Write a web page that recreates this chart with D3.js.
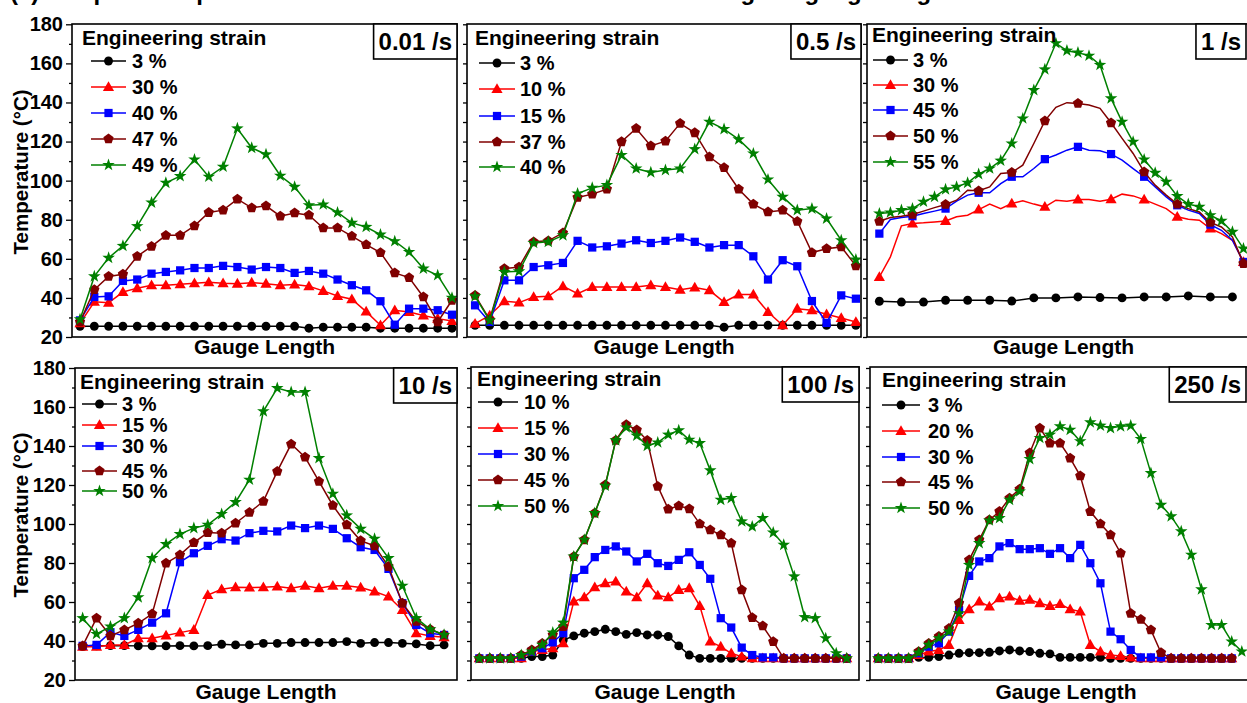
<!DOCTYPE html>
<html><head><meta charset="utf-8">
<script src="https://cdn.jsdelivr.net/npm/d3@7"></script>
<style>
body{margin:0;background:#fff}
svg{display:block;font-family:"Liberation Sans",Arial,Helvetica,sans-serif;font-weight:bold}
</style>
</head><body>
<svg id="chart" width="1247" height="703"></svg>
<script>
// ---------------- DATA ----------------
const yTicks = [20, 40, 60, 80, 100, 120, 140, 160, 180];
const yMinorTicks = [30, 50, 70, 90, 110, 130, 150, 170];
const rateLabels = ["0.01 /s", "0.5 /s", "1 /s", "10 /s", "100 /s", "250 /s"];
const legendTitle = "Engineering strain";
const xLabel = "Gauge Length";
const yLabel = "Temperature (°C)";
const figTitle = "(a) Temperature profiles at different strain rates and strains along the gauge length";

// 0.01 /s
const strains001 = ["3 %", "30 %", "40 %", "47 %", "49 %"];
const t001_a = [25.5,25.5,25.5,25.5,25.5,25.5,25.5,25.5,25.5,25.5,25.5,25.5,25.5,25.5,25.5,25.5,24.5,25,25,25,25,24.5,24.5,24.5,24.5,24.5,24.5];
const t001_b = [27,38,37.5,43,45,46.5,46.5,47,47.5,48,47.5,47.3,47.8,47.3,46.5,46.8,46,43.6,41,39.3,33,26,33.7,32.8,31,29.4,28.2];
const t001_c = [28.5,40.5,40.8,48.7,49.4,52.4,53.3,54.1,55.3,55.3,56.4,55.8,54.5,55.8,55.3,52.8,53.8,52.4,49.4,46.5,43.9,38.3,26.3,34.5,34.5,33.7,31.4];
const t001_d = [27.7,44.2,51,52.1,61.3,66.4,72,72,76.9,83.7,84.9,90.5,86.1,87.1,81.8,83.5,82.3,75.8,75.8,71.6,67.3,63.2,52.8,50.4,40.5,27.7,38.8];
const t001_e = [29,51,60.5,66.6,76.7,88.8,98.9,102.3,110.8,102,107.1,126.7,116.8,113.4,102.5,96.8,87.4,87.8,83.7,78.4,76.3,72.4,69,63.5,55,51.6,40];

// 0.5 /s
const strains05 = ["3 %", "10 %", "15 %", "37 %", "40 %"];
const t05_a = [26,26,26,26,26,26,26,26,26,26,26,26,26,26,26,26,26,25,26,26,26,26,26,26,26,26,26];
const t05_b = [26.8,31,38.3,37.6,40.5,40.8,46,42.2,45.6,45.6,45.6,45.6,46.5,45.6,44.2,45.3,43.9,37.9,41.7,41.7,32.8,26,34.5,33.7,31.6,29.7,27.7];
const t05_c = [36.2,27.7,49,49,55.8,56.7,57.9,69.2,65.8,66.4,67.8,69.5,68.1,69.2,70.9,68.7,65.8,67,67,61.3,49.4,59.3,56.2,38.4,27.2,41.3,39.6];
const t05_d = [41.3,28.9,55,55.8,68.7,69.2,73.3,91.4,93.1,95.6,119.9,126.7,117.8,120.2,129.3,124.5,112.2,106.6,95.6,88,84,84.9,79.2,63.2,65.2,66.1,56.4];
const t05_e = [40.8,28.5,53.3,53.6,68.1,68.7,72,93.4,96.3,97.7,113.1,106.2,104.2,105.4,106.2,116.1,130.1,126.4,121.1,113.9,100.6,91.7,84.9,85.7,80.6,69.5,59.6];

// 1 /s
const strains1 = ["3 %", "30 %", "45 %", "50 %", "55 %"];
const t1_a = [38.3,37.9,37.9,38.8,38.8,38.8,38.4,40,40,40.5,40.2,40,40.5,40.5,41,40.5,40.5];
const t1_b = [50.7,61,76.9,78.1,78.4,78.9,79.4,81.5,82.3,85.2,88,85.7,88.3,89.7,88,86.6,90,89.5,90.3,90.3,89.5,90.5,93.1,92.2,90.3,88,85.7,81.5,80.3,79.8,75.5,72.9,69.5,58.4];
const t1_c = [72.9,80.1,81.1,81.8,83.2,84.4,85.7,89.5,92.6,93.8,93.8,98.5,102,102,106.2,111,113.1,115.6,117.3,115.6,115.3,113.6,110.5,106.2,102,96.8,91.7,87.4,84.9,83.2,77.5,74.6,69.5,58.4];
const t1_d = [79.2,81.1,81.8,82.7,84.4,86.2,87.8,90,95.1,94.8,96.8,103.7,104.2,107.9,119,130.6,137.5,139.9,139.5,138.7,137,129.6,121.6,113.9,104.5,97.7,92.6,88,85.7,84,78.6,76.3,71.2,57.6];
const t1_e = [83.2,83.7,84.9,85.7,89.2,91.7,95.5,96.8,98.9,103.3,106.2,110.2,119,131.8,146.3,156.9,170.3,166.5,165.5,163.9,159.2,142.1,130.1,119.9,110.8,104,99.4,92.1,88,86.6,82.3,79.4,73.8,65.2];

// 10 /s
const strains10 = ["3 %", "15 %", "30 %", "45 %", "50 %"];
const t10_a = [37.1,37.5,37.6,37.6,37.5,37.5,37.5,37.6,37.5,37.6,38.3,38,38,38.8,38.8,39.2,39.2,39.2,39.2,39.7,38.8,39.2,39.2,38.8,38.5,37.6,38];
const t10_b = [37.1,37.1,38,38,41.4,41.4,42.8,44.3,45.7,63.6,66.5,67.6,67.4,67.6,67.9,67.1,68.3,67.1,68.3,68.3,67.4,65.4,62.8,55.9,44,42.6,41.9];
const t10_c = [37.5,38,44.5,42.6,45.7,49.4,54.2,80.4,85,88.8,92.2,91.5,95.3,96.5,96.2,99.2,97.9,99.2,97.5,92.7,88.1,86.7,77,59.4,48.2,44,43.1];
const t10_d = [37.5,51.7,42.6,45.7,49.1,53.9,79.9,84.2,90.5,95.6,95.3,100.4,105.9,111.6,127,141,134.3,121.8,109.5,99.6,91.4,88.8,78.2,59.4,50,46,43.1];
const t10_e = [51.7,43.6,47.4,51.7,62.4,82.5,89.7,94.8,97.9,99.6,105.1,111.2,122.7,157.8,169.7,167.7,167.7,133.8,115.5,104.4,97.5,92.4,82.5,68.3,51.7,46,43.1];

// 100 /s
const strains100 = ["10 %", "15 %", "30 %", "45 %", "50 %"];
const t100_a = [31.1,31.1,31.1,31.1,31.1,32,32,32.8,40.5,42.6,44,44.8,46,44.8,43.4,44.3,43.1,43.1,42.3,37.5,32.8,31.1,31.1,31.1,31.1,31.1,31.1,31.1,31.1,31.1,31.1,31.1,31.1,31.1,31.1,31.1];
const t100_b = [31.1,31.1,31.1,31.1,31.1,34.6,35.4,36.3,38.8,60.2,62.4,67.6,69.6,70.5,65.4,62.4,69.6,63.3,62.4,66.2,67.1,58,39.7,37.1,33.7,32,31.1,31.1,31.1,31.1,31.1,31.1,31.1,31.1,31.1,31.1];
const t100_c = [31.1,31.1,31.1,31.1,32,34.6,36.3,39.3,44,72.2,76.5,83,86.7,88.5,85.9,80.8,84.7,79.9,78.5,81.6,85.5,79,71.9,51.7,46.9,36.6,32.8,31.6,31.6,31.1,31.1,31.1,31.1,31.1,31.1,31.1];
const t100_d = [31.1,31.1,31.1,31.1,32.8,35.4,38.8,43.1,47.4,83.3,91.9,105.6,120.1,142.9,150.9,148.3,142.9,119.3,107.6,109.3,107.8,100.1,97,94.4,90.2,66.2,52,47.7,39.7,31.1,31.1,31.1,31.1,31.1,31.1,31.1];
const t100_e = [31.1,31.1,31.1,31.1,32.8,34.6,38,44.3,49.4,83.3,91.9,105.6,119.6,142.9,149.5,145.3,140.1,141.8,145.8,148,143.2,141.5,127.5,112.4,113.3,101.3,98.7,103,95.6,89.3,73.1,52.2,51.7,41.4,33.7,31.1];

// 250 /s
const strains250 = ["3 %", "20 %", "30 %", "45 %", "50 %"];
const t250_a = [31.1,31.1,31.1,31.1,31.6,31.6,32,32.8,33.7,34,34,34.2,34.9,35.4,34.9,34.6,33.7,33.4,31.6,31.6,31.6,31.6,31.6,31.1,31.1,31.1,31.1,31.1,31.1,31.1,31.1,31.1,31.1,31.1,31.1,31.1];
const t250_b = [31.1,31.1,31.1,31.1,32.8,34.6,35.4,38,50.8,56.3,60.2,57.7,61.9,62.8,60.7,61.1,59.4,58,59,56.3,55.1,38,34.6,32.8,32.3,31.6,31.1,31.1,31.1,31.1,31.1,31.1,31.1,31.1,31.1,31.1];
const t250_c = [31.1,31.1,31.1,31.1,33.7,37.1,38.8,44.8,55.9,73.4,80.8,82.5,88.5,90.2,87.1,87.1,87.6,84.7,87.6,82.5,89.3,79.9,69.6,44.8,40.9,35.4,31.6,31.6,31.6,31.1,31.1,31.1,31.1,31.1,31.1,31.1];
const t250_d = [31.1,31.1,31.1,31.1,34.6,38.8,42.3,46.5,59.4,81.6,91.9,102.1,106.4,113.3,117.9,136.4,149.2,141.5,141.5,133.8,124.7,106.4,100.1,94.4,85,54.2,51.1,45.7,34,31.1,31.1,31.1,31.1,31.1,31.1,31.1];
const t250_e = [31.1,31.1,31.1,31.1,34,38,41.4,44.8,54.2,79,90.2,101.8,103,112.4,116.7,133.3,144.1,145.8,150.1,148.3,142.4,152.1,150.4,149.2,150.1,150.4,143.6,126.1,109.8,103.9,96.2,84.2,66.5,48.2,48.2,39.7,34.6];

// ---------------- STYLE / LAYOUT ----------------
const colors = ["#000000", "#ff0000", "#0000ff", "#800000", "#008000"];
const shapes = ["circle", "triangle", "square", "pentagon", "star"];
const W = 1247;

const panels = [
  {rate: rateLabels[0], labels: strains001, series: [t001_a,t001_b,t001_c,t001_d,t001_e],
   step: [1,1,1,1,1], every: [1,1,1,1,1],
   box: [72, 24, 457, 337], xDom: [-0.56, 26.35], yRange: [337, 24.3], labels_y: true,
   leg: {tx0: 82, ty: 45, lx: [91, 126], tx: 132, rows: [61, 87, 113, 139, 165]}, yl: 172, xlY: 354},
  {rate: rateLabels[1], labels: strains05, series: [t05_a,t05_b,t05_c,t05_d,t05_e],
   step: [1,1,1,1,1], every: [1,1,1,1,1],
   box: [467, 24, 861, 337], xDom: [-0.55, 26.35], yRange: [337, 24.3], labels_y: false,
   leg: {tx0: 475, ty: 45, lx: [479, 515], tx: 520, rows: [63, 89, 116, 142, 167]}, xlY: 354},
  {rate: rateLabels[2], labels: strains1, series: [t1_a,t1_b,t1_c,t1_d,t1_e],
   step: [2,1,1,1,1], every: [1,3,3,3,1],
   box: [867, 24, 1260, 337], xDom: [-1.12, 34.5], yRange: [337, 24.3], labels_y: false,
   leg: {tx0: 872, ty: 42, lx: [873, 908], tx: 913, rows: [60, 85, 110, 136, 162]}, xlY: 354},
  {rate: rateLabels[3], labels: strains10, series: [t10_a,t10_b,t10_c,t10_d,t10_e],
   step: [1,1,1,1,1], every: [1,1,1,1,1],
   box: [75, 368, 457, 680], xDom: [-0.55, 26.93], yRange: [680, 368], labels_y: true,
   leg: {tx0: 80, ty: 389, lx: [82, 117], tx: 122, rows: [404, 425, 446, 471, 491]}, yl: 515, xlY: 699},
  {rate: rateLabels[4], labels: strains100, series: [t100_a,t100_b,t100_c,t100_d,t100_e],
   step: [1,1,1,1,1], every: [1,1,1,1,1],
   box: [471, 367, 859, 680], xDom: [-0.79, 36.17], yRange: [680, 368], labels_y: false,
   leg: {tx0: 477, ty: 386, lx: [478, 518], tx: 524, rows: [402, 428, 454, 480, 506]}, xlY: 699},
  {rate: rateLabels[5], labels: strains250, series: [t250_a,t250_b,t250_c,t250_d,t250_e],
   step: [1,1,1,1,1], every: [1,1,1,1,1],
   box: [870, 367, 1262, 680], xDom: [-0.82, 38.0], yRange: [680, 368], labels_y: false,
   leg: {tx0: 882, ty: 387, lx: [882, 920], tx: 928, rows: [405, 431, 457, 482, 508]}, xlY: 699}
];

function markerPath(shape) {
  if (shape === "circle") return d3.symbol(d3.symbolCircle, 62)();
  if (shape === "square") return d3.symbol(d3.symbolSquare, 68)();
  if (shape === "triangle") return "M0,-5.8L5.6,4L-5.6,4Z";
  if (shape === "pentagon") {
    const r = 5.4, pts = [];
    for (let i = 0; i < 5; i++) {
      const a = -Math.PI / 2 + i * 2 * Math.PI / 5;
      pts.push([r * Math.cos(a), r * Math.sin(a)]);
    }
    return "M" + pts.map(p => p[0].toFixed(2) + "," + p[1].toFixed(2)).join("L") + "Z";
  }
  if (shape === "star") {
    const ro = 6.6, ri = 2.6, pts = [];
    for (let i = 0; i < 10; i++) {
      const a = -Math.PI / 2 + i * Math.PI / 5;
      const r = i % 2 === 0 ? ro : ri;
      pts.push([r * Math.cos(a), r * Math.sin(a)]);
    }
    return "M" + pts.map(p => p[0].toFixed(2) + "," + p[1].toFixed(2)).join("L") + "Z";
  }
}

const svg = d3.select("#chart");

// figure title (cut at the top edge as in the reference)
svg.append("text").attr("x", 10).attr("y", 0).attr("font-size", 24).text(figTitle);

panels.forEach((p, pi) => {
  const [x0, y0, x1, y1] = p.box;
  const x = d3.scaleLinear().domain(p.xDom).range([x0, x1]);
  const y = d3.scaleLinear().domain([20, 180]).range(p.yRange);
  const g = svg.append("g");

  const clipId = "clip" + pi;
  svg.append("clipPath").attr("id", clipId)
    .append("rect").attr("x", x0).attr("y", y0).attr("width", x1 - x0).attr("height", y1 - y0);

  // y axis ticks
  const ax = d3.axisLeft(y).tickValues(yTicks).tickSize(p.labels_y ? 6 : 4).tickPadding(3)
    .tickFormat(p.labels_y ? d3.format("d") : () => "");
  const axG = g.append("g").attr("transform", `translate(${x0},0)`).call(ax);
  axG.select(".domain").remove();
  axG.selectAll("line").attr("stroke", "#000").attr("stroke-width", 1.3);
  axG.selectAll("text").attr("font-size", 20).attr("font-weight", "bold").attr("fill", "#000")
     .attr("font-family", '"Liberation Sans",Arial,sans-serif');
  const axm = d3.axisLeft(y).tickValues(yMinorTicks).tickSize(p.labels_y ? 3 : 4).tickFormat(() => "");
  const axmG = g.append("g").attr("transform", `translate(${x0},0)`).call(axm);
  axmG.select(".domain").remove();
  axmG.selectAll("line").attr("stroke", "#000").attr("stroke-width", 1.3);

  // data
  const plot = g.append("g").attr("clip-path", `url(#${clipId})`);
  p.series.forEach((vals, si) => {
    const pts = vals.map((v, i) => [i * p.step[si], v]);
    plot.append("path")
      .attr("d", d3.line().x(d => x(d[0])).y(d => y(d[1]))(pts))
      .attr("fill", "none").attr("stroke", colors[si]).attr("stroke-width", 1.5);
    const mp = markerPath(shapes[si]);
    plot.selectAll(null).data(pts.filter((d, i) => i % p.every[si] === 0)).enter()
      .append("path").attr("d", mp)
      .attr("transform", d => `translate(${x(d[0])},${y(d[1])})`)
      .attr("fill", colors[si]);
  });

  // frame
  g.append("rect").attr("x", x0).attr("y", y0).attr("width", x1 - x0).attr("height", y1 - y0)
    .attr("fill", "none").attr("stroke", "#000").attr("stroke-width", 1.6);

  // legend
  const L = p.leg;
  g.append("text").attr("x", L.tx0).attr("y", L.ty).attr("font-size", 21).text(legendTitle);
  p.labels.forEach((lab, si) => {
    const ry = L.rows[si];
    g.append("line").attr("x1", L.lx[0]).attr("x2", L.lx[1]).attr("y1", ry).attr("y2", ry)
      .attr("stroke", colors[si]).attr("stroke-width", 1.5);
    g.append("path").attr("d", markerPath(shapes[si]))
      .attr("transform", `translate(${(L.lx[0] + L.lx[1]) / 2},${ry})`).attr("fill", colors[si]);
    g.append("text").attr("x", L.tx).attr("y", ry + 7).attr("font-size", 20).text(lab);
  });

  // rate box (kept inside the visible page)
  const bx1 = Math.min(x1, W - 1);
  const box = g.append("rect");
  const rt = g.append("text").attr("font-size", 24).attr("text-anchor", "end")
    .attr("x", bx1 - 5).attr("y", y0 + 26).text(p.rate);
  const w = rt.node().getComputedTextLength();
  box.attr("x", bx1 - w - 10).attr("y", y0).attr("width", w + 10).attr("height", 35)
    .attr("fill", "#fff").attr("stroke", "#000").attr("stroke-width", 1.6);

  // x label
  g.append("text").attr("x", (x0 + x1) / 2).attr("y", p.xlY).attr("text-anchor", "middle")
    .attr("font-size", 21).text(xLabel);

  // y label
  if (p.labels_y) {
    g.append("text").attr("transform", `translate(28,${p.yl}) rotate(-90)`)
      .attr("text-anchor", "middle").attr("font-size", 20.5).text(yLabel);
  }
});
</script>
</body></html>
